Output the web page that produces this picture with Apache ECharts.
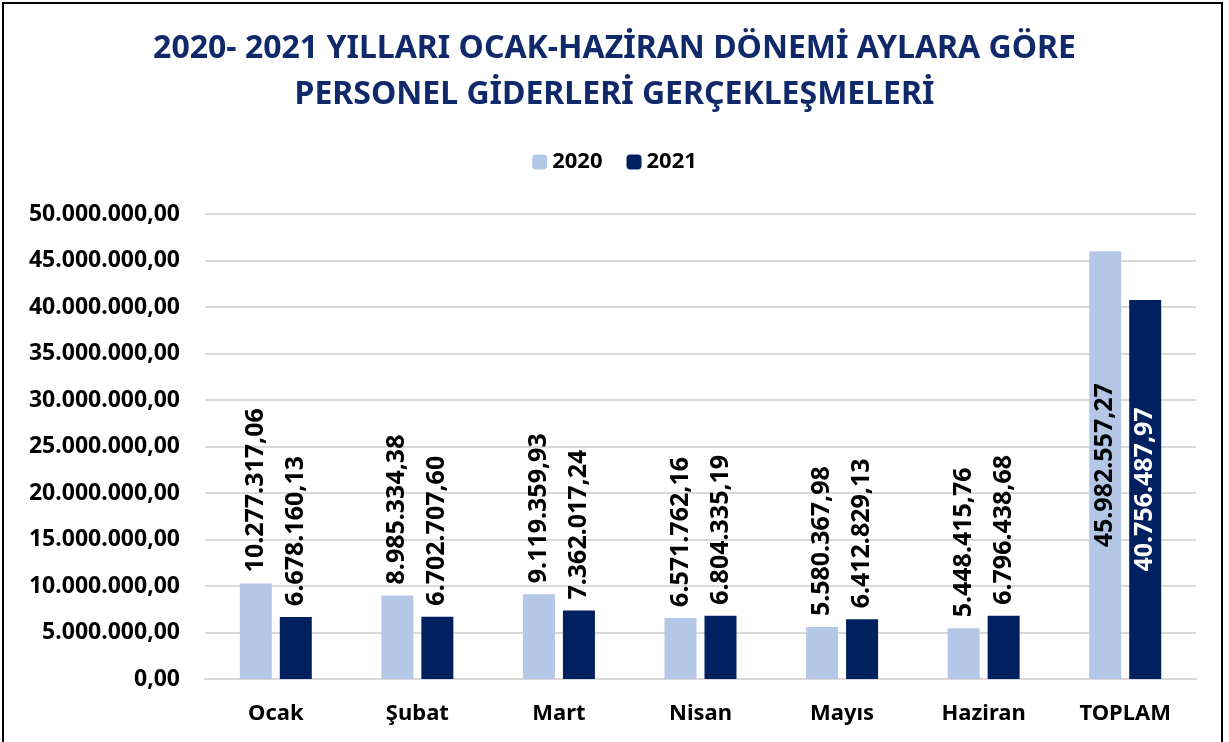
<!DOCTYPE html>
<html>
<head>
<meta charset="utf-8">
<script src="https://cdn.jsdelivr.net/npm/echarts@6/dist/echarts.min.js"></script>
<style>
  html, body { margin: 0; padding: 0; background: #fff; }
  #main { width: 1229px; height: 742px; }
</style>
</head>
<body>
<div id="main"></div>
<script>
var categories = ['Ocak', 'Şubat', 'Mart', 'Nisan', 'Mayıs', 'Haziran', 'TOPLAM'];
var values2020 = [10277317.06, 8985334.38, 9119359.93, 6571762.16, 5580367.98, 5448415.76, 45982557.27];
var values2021 = [6678160.13, 6702707.60, 7362017.24, 6804335.19, 6412829.13, 6796438.68, 40756487.97];

// 1.234.567,89 bicimi
function trFormat(v) {
  var parts = v.toFixed(2).split('.');
  return parts[0].replace(/\B(?=(\d{3})+(?!\d))/g, '.') + ',' + parts[1];
}

var FONT = 'Noto Sans';

function buildData(vals, insideColor) {
  return vals.map(function (v, i) {
    if (categories[i] === 'TOPLAM') {
      return {
        value: v,
        label: { position: 'inside', align: 'center', color: insideColor, distance: 0 }
      };
    }
    return v;
  });
}

var myChart = echarts.init(document.getElementById('main'));

var option = {
  backgroundColor: '#fff',
  animation: false,
  textStyle: { fontFamily: FONT },
  title: {
    text: '2020- 2021 YILLARI OCAK-HAZİRAN DÖNEMİ AYLARA GÖRE\nPERSONEL GİDERLERİ GERÇEKLEŞMELERİ',
    left: 'center',
    top: 21,
    textStyle: {
      fontFamily: FONT,
      fontSize: 32,
      fontWeight: 'bold',
      color: '#10296A',
      lineHeight: 46
    }
  },
  legend: {
    top: 146,
    left: 'center',
    itemWidth: 15,
    itemHeight: 15,
    itemGap: 24,
    textStyle: { fontFamily: FONT, fontSize: 22, fontWeight: 'bold', color: '#000' },
    data: ['2020', '2021']
  },
  graphic: [{
    type: 'rect',
    shape: { x: 3, y: 3, width: 1219, height: 760 },
    style: { fill: 'none', stroke: '#000', lineWidth: 2 },
    silent: true
  }],
  grid: { left: 205, right: 33, top: 214, bottom: 63 },
  xAxis: {
    type: 'category',
    data: categories,
    axisLine: { show: true, lineStyle: { color: '#D9D9D9', width: 2 } },
    axisTick: { show: false },
    axisLabel: { fontFamily: FONT, fontSize: 22, fontWeight: 'bold', color: '#000', margin: 24 }
  },
  yAxis: {
    type: 'value',
    min: 0,
    max: 50000000,
    interval: 5000000,
    axisLine: { show: false },
    axisTick: { show: false },
    splitLine: { lineStyle: { color: '#D9D9D9', width: 2 } },
    axisLabel: {
      fontFamily: FONT, fontSize: 23, fontWeight: 'bold', color: '#000', margin: 25,
      formatter: function (v) { return trFormat(v); }
    }
  },
  series: [
    {
      name: '2020',
      type: 'bar',
      barWidth: 32,
      barGap: '25%',
      itemStyle: { color: '#B4C7E7' },
      label: {
        show: true,
        position: 'top',
        rotate: 90,
        align: 'left',
        verticalAlign: 'middle',
        distance: 11,
        fontFamily: FONT, fontSize: 25, fontWeight: 'bold', color: '#000',
        formatter: function (p) { return trFormat(p.value); }
      },
      data: buildData(values2020, '#000')
    },
    {
      name: '2021',
      type: 'bar',
      barWidth: 32,
      barGap: '25%',
      itemStyle: { color: '#002060' },
      label: {
        show: true,
        position: 'top',
        rotate: 90,
        align: 'left',
        verticalAlign: 'middle',
        distance: 11,
        fontFamily: FONT, fontSize: 25, fontWeight: 'bold', color: '#000',
        formatter: function (p) { return trFormat(p.value); }
      },
      data: buildData(values2021, '#fff')
    }
  ]
};

myChart.setOption(option);
</script>
</body>
</html>
